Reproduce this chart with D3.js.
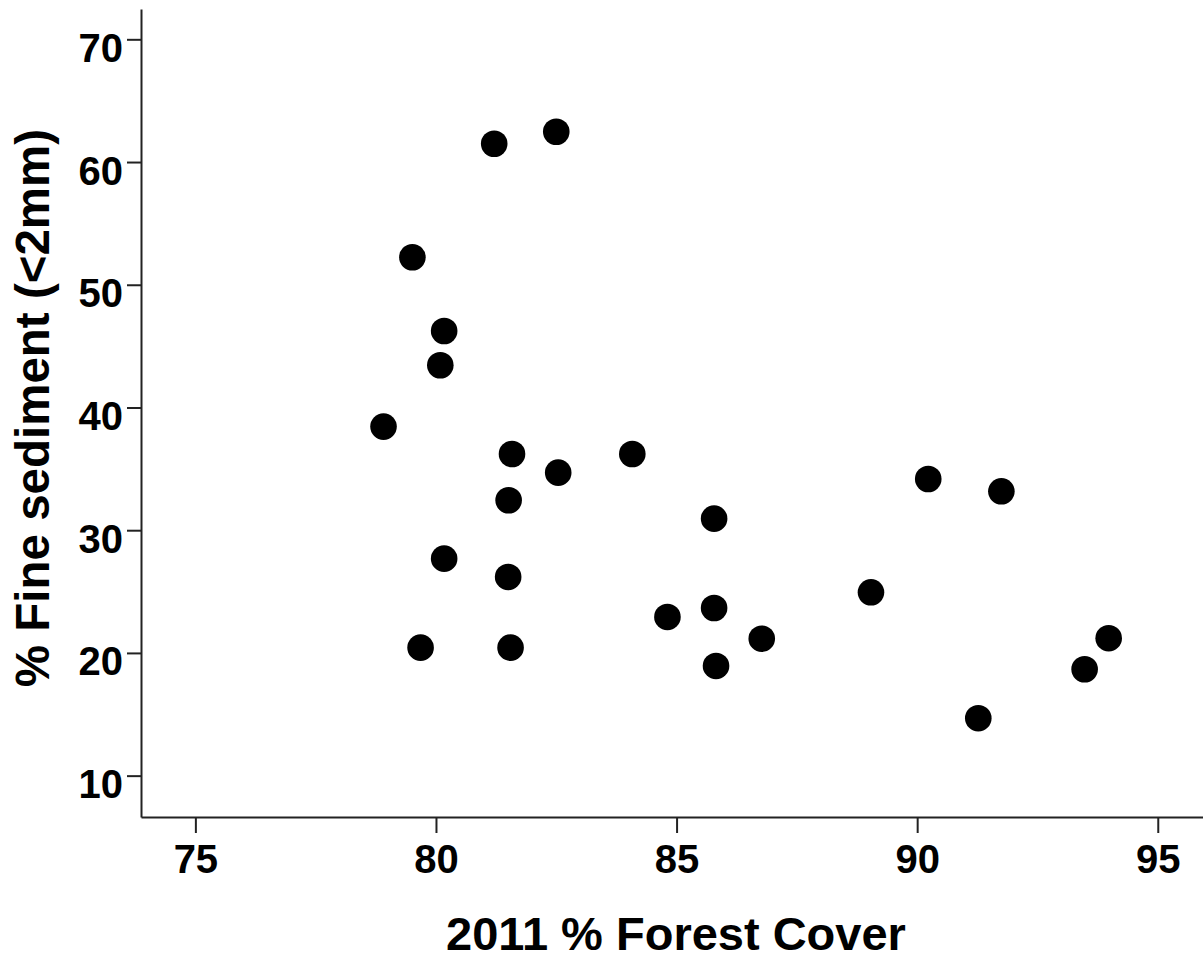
<!DOCTYPE html>
<html><head><meta charset="utf-8">
<script src="https://cdn.jsdelivr.net/npm/d3@7"></script>
<style>body{margin:0;background:#fff}svg{display:block}text{font-family:"Liberation Sans",Arial,sans-serif;font-weight:bold;fill:#000}</style>
</head><body>
<svg id="c" width="1203" height="958"></svg>
<script>
const forestCover = [81.21,82.50,79.51,80.17,80.09,78.91,81.58,82.54,84.08,81.51,85.78,80.17,81.50,84.81,85.78,79.68,81.55,85.82,90.23,91.75,89.04,86.77,93.98,93.48,91.27];
const fineSediment = [61.49,62.47,52.24,46.23,43.44,38.44,36.21,34.69,36.21,32.44,30.94,27.68,26.19,22.93,23.66,20.43,20.43,18.94,34.17,33.17,24.94,21.16,21.20,18.67,14.68];
const xTicks = [75,80,85,90,95];
const yTicks = [10,20,30,40,50,60,70];
const xTitle = "2011 % Forest Cover";
const yTitle = "% Fine sediment (<2mm)";

const svg = d3.select("#c");
const x = d3.scaleLinear().domain([73.87,95.94]).range([141,1203]);
const y = d3.scaleLinear().domain([6.63,72.47]).range([817,9]);

const gx = svg.append("g").attr("transform","translate(0,817)")
  .call(d3.axisBottom(x).tickValues(xTicks).tickSize(16).tickPadding(12).tickSizeOuter(0));
const gy = svg.append("g").attr("transform","translate(141,0)")
  .call(d3.axisLeft(y).tickValues(yTicks).tickSize(14).tickPadding(4).tickSizeOuter(0));
[gx,gy].forEach(g=>{
  g.select(".domain").attr("stroke","#222").attr("stroke-width",2);
  g.selectAll(".tick line").attr("stroke","#222").attr("stroke-width",2);
  g.selectAll(".tick text").attr("font-size",40).attr("font-family",'"Liberation Sans",Arial,sans-serif').attr("font-weight","bold").attr("fill","#000");
});
gy.selectAll(".tick text").attr("dy","0.55em");
gx.selectAll(".tick text").attr("dy","0.71em");

svg.append("g").selectAll("circle").data(forestCover).join("circle")
  .attr("cx",(d)=>x(d)).attr("cy",(d,i)=>y(fineSediment[i])).attr("r",13.3).attr("fill","#000");

svg.append("text").attr("x",676).attr("y",950).attr("text-anchor","middle").attr("font-size",47).text(xTitle);
svg.append("text").attr("transform","translate(49,408) rotate(-90)").attr("text-anchor","middle").attr("font-size",47.5).text(yTitle);
</script>
</body></html>
